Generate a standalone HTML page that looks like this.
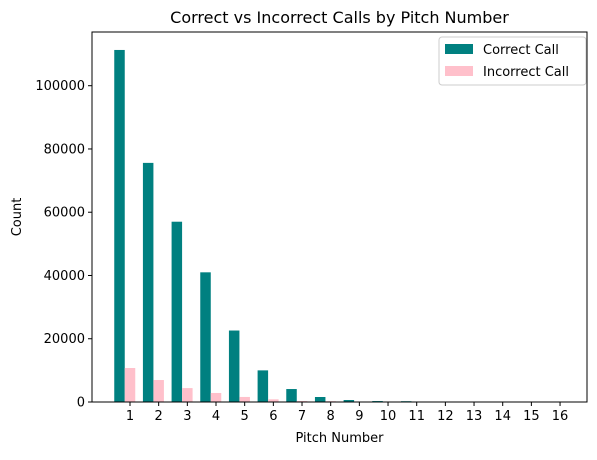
<!DOCTYPE html>
<html><head><meta charset="utf-8"><style>
body{margin:0;background:#fff;}
svg{font-family:"DejaVu Sans","Liberation Sans",sans-serif;}
</style></head><body>
<svg id="chart" width="597" height="455" viewBox="0 0 597 455" xmlns="http://www.w3.org/2000/svg">
<text x="339.5" y="23" text-anchor="middle" font-size="16">Correct vs Incorrect Calls by Pitch Number</text>
<g id="bars"></g>
<g id="axes"></g>
<text x="339.5" y="442" text-anchor="middle" font-size="13">Pitch Number</text>
<text transform="translate(21,217) rotate(-90)" text-anchor="middle" font-size="13">Count</text>
<g>
<rect x="439" y="37" width="147" height="48" rx="3" fill="#fff" stroke="#ccc"/>
<g>
<rect x="445" y="44" width="28" height="10" fill="#008080"/>
<text x="483" y="54" font-size="13">Correct Call</text></g>
<g>
<rect x="445" y="66" width="28" height="10" fill="#ffc0cb"/>
<text x="483" y="76" font-size="13">Incorrect Call</text></g>
</g>
</svg>
<script>
const categories=[1,2,3,4,5,6,7,8,9,10,11,12,13,14,15,16];
const correctValues=[111300,75600,57000,41000,22600,10000,4100,1580,630,300,250,60,30,15,8,4];
const incorrectValues=[10750,6950,4400,2850,1600,850,300,250,80,40,20,10,5,3,2,1];
const yTicks=[0,20000,40000,60000,80000,100000];
const NS="http://www.w3.org/2000/svg";
const L=92,R=587,T=32,B=402,yMax=116980;
const step=28.67, x0=130, bw=10.5;
function xPos(i){return x0+i*step;}
function yPos(v){return B-(v/yMax)*(B-T);}
const bars=document.getElementById('bars'),axes=document.getElementById('axes');
function mk(tag,attrs,parent){const e=document.createElementNS(NS,tag);for(const k in attrs)e.setAttribute(k,attrs[k]);parent.appendChild(e);return e;}
categories.forEach((c,i)=>{
  const r1=mk('rect',{x:xPos(i)-bw*1.5,y:yPos(correctValues[i]),width:bw,height:B-yPos(correctValues[i]),fill:'#008080'},bars);
  
  
  const r2=mk('rect',{x:xPos(i)-bw*0.5,y:yPos(incorrectValues[i]),width:bw,height:B-yPos(incorrectValues[i]),fill:'#ffc0cb'},bars);
  
  
  mk('line',{x1:xPos(i),x2:xPos(i),y1:B,y2:B+4,stroke:'#000'},axes);
  const t=mk('text',{x:xPos(i),y:B+18,'text-anchor':'middle','font-size':13},axes);
  t.textContent=c;
  
  
});
yTicks.forEach(v=>{
  const y=yPos(v);
  mk('line',{x1:L-4,x2:L,y1:y,y2:y,stroke:'#000'},axes);
  const t=mk('text',{x:L-7,y:y+4.5,'text-anchor':'end','font-size':13},axes);
  t.textContent=v;
  
  
});
const f=mk('rect',{x:L,y:T,width:R-L,height:B-T,fill:'none',stroke:'#000','stroke-width':1},axes);


</script>
</body></html>
